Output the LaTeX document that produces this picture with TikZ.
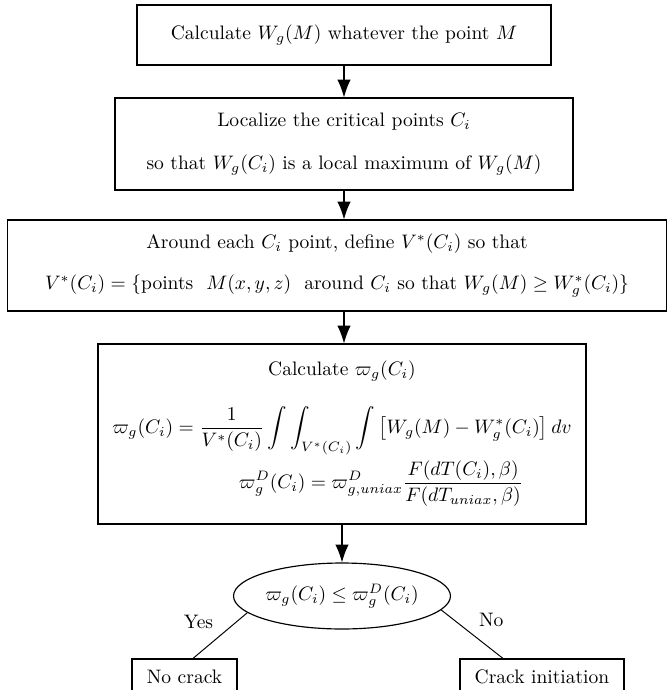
\documentclass[tikz,border=0pt]{standalone}
\usepackage{amsmath}
\usetikzlibrary{arrows.meta}
\usetikzlibrary{shapes.geometric}
\tikzset{>=latex}
\tikzset{
    stepbox/.style={draw, line width=0.6pt, rectangle, align=center, inner sep=0pt},
    flow/.style={-{Latex[length=3.2mm,width=2.4mm]}, line width=0.6pt},
    branch/.style={line width=0.5pt}
}

\begin{document}
\begin{tikzpicture}[x=0.018cm, y=-0.018cm]
    % Fix the frame of the picture
    \useasboundingbox (0,0) rectangle (670,690);

    % Draw the steps of the procedure
    \node[stepbox, minimum width=7.452cm, minimum height=1.08cm] (calc) at (344,35)
        {Calculate $W_g(M)$ whatever the point $M$};
    \node[stepbox, minimum width=8.244cm, minimum height=1.656cm] (local) at (344,144)
        {Localize the critical points $C_i$\\[10pt]
         so that $W_g(C_i)$ is a local maximum of $W_g(M)$};
    \node[stepbox, minimum width=11.88cm, minimum height=1.638cm] (around) at (337,265.5)
        {Around each $C_i$ point, define $V^*(C_i)$ so that\\[9pt]
         $V^*(C_i)=\{\text{points }\ M(x,y,z)\ \text{ around } C_i \text{ so that } W_g(M)\geq W_g^*(C_i)\}$};
    \node[stepbox, minimum width=8.784cm, minimum height=3.24cm] (varpi) at (342,434)
        {Calculate $\varpi_g(C_i)$\\[12pt]
         $\displaystyle \varpi_g(C_i)=\frac{1}{V^*(C_i)}\int\int_{V^*(C_i)}\int\big[W_g(M)-W_g^*(C_i)\big]\,dv$\\[2pt]
         \hspace{4em}$\displaystyle \varpi_g^D(C_i)=\varpi^D_{g,uniax}\frac{F(dT(C_i),\beta)}{F(dT_{uniax},\beta)}$};

    % Draw the test and its two outcomes
    \node[draw, line width=0.6pt, ellipse, inner sep=0pt, minimum width=3.276cm, minimum height=1.188cm] (test) at (342,596)
        {$\varpi_g(C_i)\leq\varpi_g^D(C_i)$};
    \node[stepbox, minimum width=1.89cm, minimum height=0.648cm] (nocrack) at (184.5,677) {No crack};
    \node[stepbox, minimum width=2.952cm, minimum height=0.648cm] (crack) at (542,677) {Crack initiation};

    % Draw the arrows between the steps
    \draw[flow] (calc.south) -- (calc.south |- local.north);
    \draw[flow] (local.south) -- (local.south |- around.north);
    \draw[flow] (local.south |- around.south) -- (local.south |- varpi.north);
    \draw[flow] (test.north |- varpi.south) -- (test.north);

    \draw[branch] (test.190) -- ([xshift=0.153cm]nocrack.north) node[midway, above left] (yes) {Yes};
    \draw[branch] (test.352) -- ([xshift=-0.702cm]crack.north) node[midway, above right] (no) {No};

\end{tikzpicture}
\end{document}
